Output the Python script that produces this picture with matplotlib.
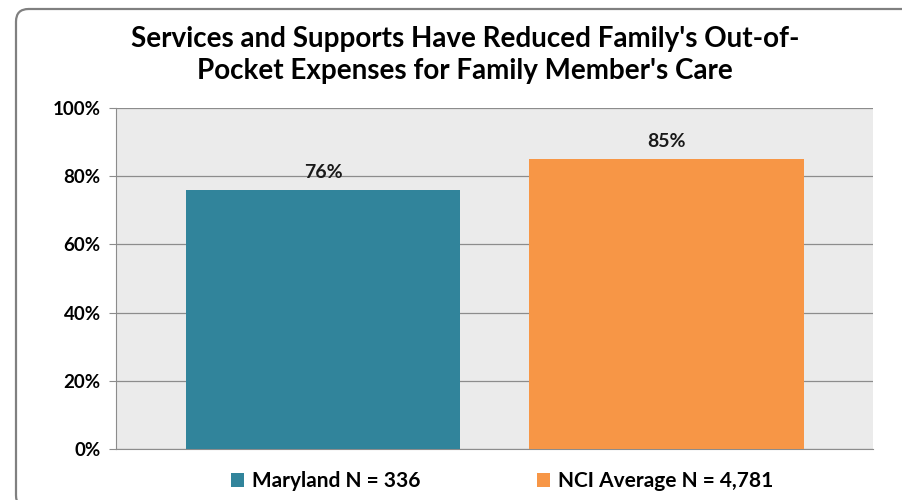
import matplotlib.pyplot as plt
from matplotlib.patches import FancyBboxPatch, Patch

# données
categories = ['Maryland N = 336', 'NCI Average N = 4,781']
values = [76, 85]
colors = ['#31849B', '#F79646']
title = "Services and Supports Have Reduced Family's Out-of-\nPocket Expenses for Family Member's Care"

plt.rcParams['font.family'] = ['Lato', 'DejaVu Sans']

fig = plt.figure(figsize=(9.02, 5.0), dpi=100)
fig.patch.set_facecolor('white')

# cadre arrondi (coupé à droite et en bas comme l'original)
box = FancyBboxPatch((16 / 902, -8 / 500), 920 / 902, 499 / 500,
                     boxstyle='round,pad=0,rounding_size=0.014',
                     transform=fig.transFigure, fill=False,
                     edgecolor='#808080', linewidth=1.6, mutation_aspect=902 / 500)
fig.patches.append(box)

ax = fig.add_axes([116 / 902, 1 - 449 / 500, 757 / 902, 341 / 500])
ax.set_facecolor('#EBEBEB')

x = list(range(len(categories)))
bars = ax.bar(x, values, width=0.80, color=colors, zorder=3)
for xi, v in zip(x, values):
    ax.text(xi, v + 2.6, f'{v}%', ha='center', va='bottom',
            fontsize=14, fontweight='bold', color='#1a1a1a', zorder=4)

ax.set_xlim(-0.603, 1.601)
ax.set_ylim(0, 100)
ax.set_yticks(range(0, 101, 20))
ax.set_yticklabels([f'{t}%' for t in range(0, 101, 20)],
                   fontsize=13.5, fontweight='bold')
ax.set_xticks([])
ax.yaxis.grid(True, color='#8C8C8C', linewidth=0.9, zorder=1)
ax.tick_params(axis='y', length=5, color='#8C8C8C', pad=6)
for s in ['top', 'right']:
    ax.spines[s].set_visible(False)
for s in ['left', 'bottom']:
    ax.spines[s].set_color('#8C8C8C')

fig.text(465 / 902, 1 - 55 / 500, title, ha='center', va='center',
         fontsize=20, fontweight='bold', linespacing=1.25)

handles = [Patch(facecolor=c) for c in colors]
fig.legend(handles, categories, loc='center', bbox_to_anchor=(502 / 902, 1 - 481 / 500),
           ncol=2, frameon=False, prop={'weight': 'bold', 'size': 15},
           handlelength=0.65, handleheight=0.65, handletextpad=0.35, columnspacing=5.6)

fig.savefig('out.png', dpi=100)
